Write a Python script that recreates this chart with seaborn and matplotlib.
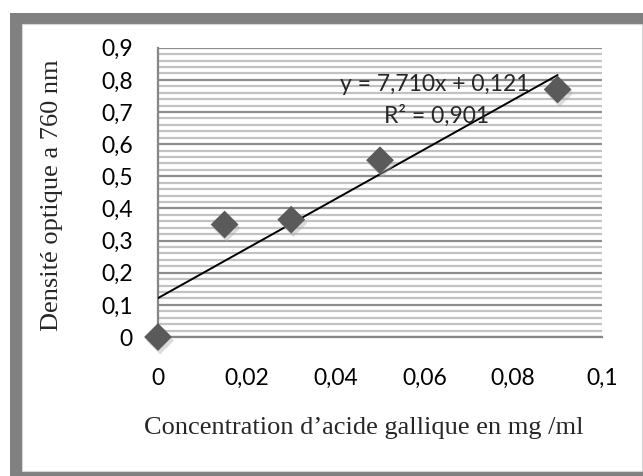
import matplotlib
matplotlib.use("Agg")
import matplotlib.pyplot as plt
import matplotlib.patches as mpatches
import matplotlib.patheffects as pe
from matplotlib.ticker import MultipleLocator, FuncFormatter
import numpy as np
import pandas as pd
import seaborn as sns

# Calibration data: gallic acid concentration vs optical density
concentration = [0.0, 0.015, 0.03, 0.05, 0.09]
absorbance = [0.0, 0.35, 0.365, 0.55, 0.77]

# Linear trendline as reported on the chart
slope = 7.710
intercept = 0.121
r_squared = 0.901

x_ticks = [0, 0.02, 0.04, 0.06, 0.08, 0.1]
y_ticks = [0, 0.1, 0.2, 0.3, 0.4, 0.5, 0.6, 0.7, 0.8, 0.9]

sns.set_style("white")
plt.rcParams["font.family"] = ["Lato", "DejaVu Sans"]

W, H = 643, 476
fig = plt.figure(figsize=(W / 100, H / 100), dpi=100)
fig.patch.set_facecolor("white")

# Gray frame around the chart
fig.patches.append(mpatches.Rectangle((10 / W, 0), 2, (H - 13) / H,
                                      transform=fig.transFigure,
                                      facecolor="#808080", edgecolor="none", zorder=-2))
fig.patches.append(mpatches.Rectangle((22 / W, 5 / H), (642 - 22) / W, (471 - 24) / H,
                                      transform=fig.transFigure,
                                      facecolor="white", edgecolor="#d4d4d4",
                                      linewidth=0.8, zorder=-1))

left, right = 158 / W, 602 / W
bottom, top = (H - 337) / H, (H - 47.7) / H
ax = fig.add_axes([left, bottom, right - left, top - bottom])
ax.set_facecolor("none")

df = pd.DataFrame({"x": concentration, "y": absorbance})

# Trendline over the measured range
x_fit = np.array([min(concentration), max(concentration)])
fit = pd.DataFrame({"x": x_fit, "y": slope * x_fit + intercept})
sns.lineplot(data=fit, x="x", y="y", ax=ax, color="black", linewidth=1.4, zorder=4)

sns.scatterplot(data=df, x="x", y="y", ax=ax, marker="D", s=200,
                color="#5a5a5a", edgecolor="none", zorder=5, clip_on=False)
for coll in ax.collections:
    coll.set_path_effects([pe.SimplePatchShadow(offset=(1.5, -2.5), shadow_rgbFace="#b0b0b0",
                                                alpha=0.45), pe.Normal()])

ax.set_xlim(0, 0.1)
ax.set_ylim(0, 0.9)

# Gridlines: minor every 0.02, major every 0.1
ax.yaxis.set_major_locator(MultipleLocator(0.1))
ax.yaxis.set_minor_locator(MultipleLocator(0.02))
ax.xaxis.set_major_locator(MultipleLocator(0.02))
ax.grid(False)
ax.grid(axis="y", which="minor", color="#c2c2c2", linewidth=1.6, zorder=0)
ax.grid(axis="y", which="major", color="#8e8e8e", linewidth=1.6, zorder=1)
ax.set_axisbelow(True)

def comma_fmt(v, pos):
    s = ("%.2f" % v).rstrip("0").rstrip(".")
    return s.replace(".", ",")

ax.set_xticks(x_ticks)
ax.set_yticks(y_ticks)
ax.xaxis.set_major_formatter(FuncFormatter(comma_fmt))
ax.yaxis.set_major_formatter(FuncFormatter(comma_fmt))

for s in ["top", "right"]:
    ax.spines[s].set_visible(False)
for s in ["left", "bottom"]:
    ax.spines[s].set_color("#868686")
    ax.spines[s].set_linewidth(1.6)
ax.tick_params(axis="both", which="major", direction="out", length=6, width=1.4,
               color="#868686", labelsize=16.5, labelcolor="black")
ax.tick_params(axis="x", pad=16)
ax.tick_params(axis="y", pad=12)
ax.tick_params(axis="both", which="minor", length=0)

ax.set_xlabel("Concentration d’acide gallique en mg /ml", fontfamily="Liberation Serif",
              fontsize=19, va="center")
ax.set_ylabel("Densité optique a 760 nm", fontfamily="Liberation Serif",
              fontsize=19, va="center")
ax.xaxis.set_label_coords(0.464, -0.3146)
ax.yaxis.set_label_coords(-0.2387, 0.4908)

fmt = lambda v: ("%.3f" % v).replace(".", ",")
ax.text(0.0623, 0.784, f"y = {fmt(slope)}x + {fmt(intercept)}", fontsize=16.5,
        ha="center", va="center", zorder=6)
ax.text(0.0627, 0.688, f"R² = {fmt(r_squared)}", fontsize=16.5,
        ha="center", va="center", zorder=6)

fig.savefig("out.png", dpi=100)
